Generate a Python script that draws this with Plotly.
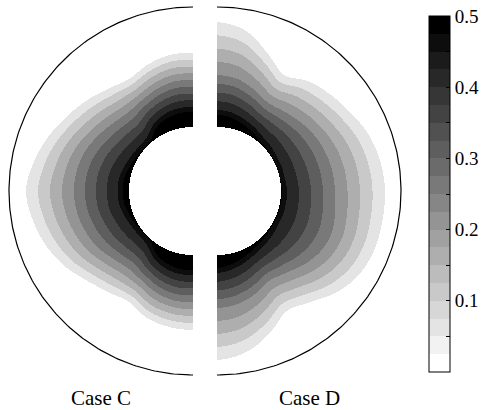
import numpy as np
import plotly.graph_objects as go

# ---------------- data ----------------
# angle measured from the top of each half (0 = top, 90 = outer side, 180 = bottom)
ANGLES = [0, 10, 20, 30, 40, 50, 60, 70, 80, 90, 100, 110, 120, 130, 140, 150, 160, 170, 180]

# radius (inner cylinder = 64, outer wall = 184) of the 0.05, 0.25 and 0.45 iso-lines
CASE_C_R_005 = [138, 138, 134, 129, 133, 140, 147, 155, 162, 167, 163, 157, 149, 139, 132, 128, 135, 138, 139]
CASE_C_R_025 = [111, 111, 108, 104, 102, 105, 110, 115, 118, 119, 118, 115, 111, 105, 101, 103, 108, 111, 111]
CASE_C_R_045 = [84, 84, 82, 78, 71, 70, 71, 73, 75, 75, 75, 73, 71, 70, 71, 78, 82, 84, 84]

CASE_D_R_005 = [169, 163, 147, 134, 143, 149, 155, 162, 166, 168, 168, 168, 165, 157, 145, 139, 152, 164, 169]
CASE_D_R_025 = [116, 114, 108, 102, 104, 108, 112, 115, 117, 118, 120, 122, 120, 114, 107, 104, 110, 115, 117]
CASE_D_R_045 = [81, 80, 77, 74, 71, 70, 69, 69, 69, 70, 70, 70, 70, 71, 72, 74, 77, 80, 82]

ISO_LEVELS = [0.05, 0.25, 0.45]
CONTOUR_STEP = 0.05          # filled-contour interval in the plot
CBAR_STEP = 0.025            # colour-bar interval
ZMAX = 0.5
R_INNER = 64
R_OUTER = 184
HALF_GAP = 12

CASE_LABELS = ["Case C", "Case D"]
TICK_VALUES = [0.05, 0.1, 0.15, 0.2, 0.25, 0.3, 0.35, 0.4, 0.45, 0.5]
TICK_TEXT = ["", "0.1", "", "0.2", "", "0.3", "", "0.4", "", "0.5"]

# ---------------- field evaluation ----------------
xs = np.arange(-R_OUTER - HALF_GAP - 0.5, R_OUTER + HALF_GAP + 1, 1.0)
ys = np.arange(-R_OUTER - 1.5, R_OUTER + 2, 1.0)
X, Y = np.meshgrid(xs, ys)

left = X < -HALF_GAP
right = X > HALF_GAP
DX = np.where(left, X + HALF_GAP, X - HALF_GAP)
R = np.hypot(DX, Y)
A = np.degrees(np.arctan2(np.abs(DX), Y))

ang = np.asarray(ANGLES, dtype=float)
step = ang[1] - ang[0]


def smooth_interp(a, vals):
    """Catmull-Rom interpolation of iso-line radii along the angle."""
    v = np.asarray(vals, dtype=float)
    n = len(v)
    idx = np.clip(np.floor((a - ang[0]) / step).astype(int), 0, n - 2)
    t = (a - ang[idx]) / step
    p0 = v[np.clip(idx - 1, 0, n - 1)]
    p1 = v[idx]
    p2 = v[idx + 1]
    p3 = v[np.clip(idx + 2, 0, n - 1)]
    return 0.5 * (2 * p1 + (-p0 + p2) * t + (2 * p0 - 5 * p1 + 4 * p2 - p3) * t ** 2
                  + (-p0 + 3 * p1 - 3 * p2 + p3) * t ** 3)


def side_interp(arr_c, arr_d):
    return np.where(left, smooth_interp(A, arr_c), smooth_interp(A, arr_d))


r0 = side_interp(CASE_C_R_005, CASE_D_R_005)
rm = side_interp(CASE_C_R_025, CASE_D_R_025)
rb = side_interp(CASE_C_R_045, CASE_D_R_045)

l0, lm, lb = ISO_LEVELS
Z = np.where(
    R <= rb, lb + (rb - R) * 0.01,
    np.where(
        R <= rm, lm + (lb - lm) * (rm - R) / (rm - rb),
        np.where(R <= r0, l0 + (lm - l0) * (r0 - R) / (r0 - rm),
                 l0 * (R_OUTER - R) / (R_OUTER - r0))))

n_cbar = int(round(ZMAX / CBAR_STEP))
k = np.floor(Z / CONTOUR_STEP)
entry = np.clip(k * round(CONTOUR_STEP / CBAR_STEP), 0, n_cbar - 1)
ZQ = entry * CBAR_STEP + CBAR_STEP / 2
ZQ[(R < R_INNER) | (R > R_OUTER) | (~left & ~right)] = np.nan

# stepped grey colour scale (white -> black)
cs = []
for i in range(n_cbar):
    g = int(round(255 * (1 - i / (n_cbar - 1))))
    col = f"rgb({g},{g},{g})"
    cs.append([i / n_cbar, col])
    cs.append([(i + 1) / n_cbar, col])

fig = go.Figure()
fig.add_trace(go.Heatmap(
    x=xs, y=ys, z=ZQ, zmin=0, zmax=ZMAX, colorscale=cs, zsmooth=False,
    hoverinfo="skip",
    colorbar=dict(
        x=429 / 486, xanchor="left", xpad=0,
        y=1 - 194 / 410, yanchor="middle", ypad=0,
        len=356, lenmode="pixels", thickness=21, thicknessmode="pixels",
        outlinewidth=1, outlinecolor="black",
        tickmode="array", tickvals=TICK_VALUES, ticktext=TICK_TEXT,
        ticks="inside", ticklen=4, tickcolor="black", tickwidth=1,
        tickfont=dict(family="Liberation Serif", size=19, color="black"),
    ),
))

t = np.radians(np.linspace(0, 180, 181))
for sgn in (-1, 1):
    fig.add_trace(go.Scatter(
        x=sgn * (HALF_GAP + R_OUTER * np.sin(t)), y=R_OUTER * np.cos(t),
        mode="lines", line=dict(color="black", width=1.2),
        hoverinfo="skip", showlegend=False))

for lab, cx in zip(CASE_LABELS, (-HALF_GAP - R_OUTER / 2, HALF_GAP + R_OUTER / 2)):
    fig.add_annotation(x=cx, y=-207, xref="x", yref="y", text=lab, showarrow=False,
                       font=dict(family="Liberation Serif", size=21, color="black"))

fig.update_layout(
    width=486, height=410,
    margin=dict(l=0, r=0, t=0, b=0, autoexpand=False),
    paper_bgcolor="white", plot_bgcolor="white",
    showlegend=False,
    xaxis=dict(range=[-205, 281], visible=False, fixedrange=True),
    yaxis=dict(range=[-219, 191], visible=False, fixedrange=True),
)
fig.write_html("out.html", config={"displayModeBar": False},
               post_script="document.body.style.margin='0px';")
